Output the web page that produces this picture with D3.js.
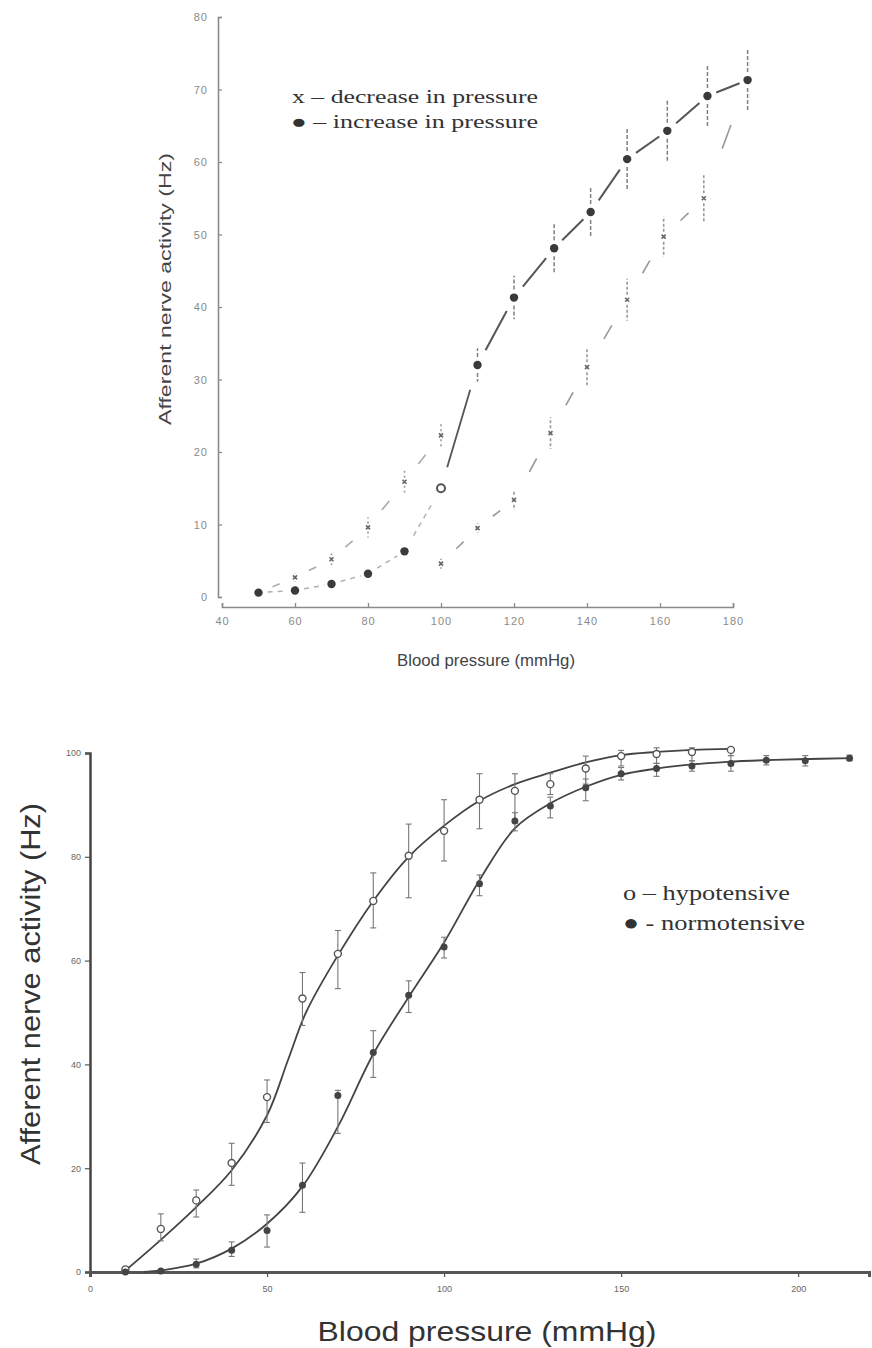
<!DOCTYPE html>
<html><head><meta charset="utf-8">
<script src="https://cdn.jsdelivr.net/npm/d3@7"></script>
<style>body{margin:0;background:#fff}svg{display:block}</style>
</head><body>
<svg id="c" width="872" height="1348"></svg>
<script>
// ---------- TOP CHART DATA ----------
const topTicksX = [40, 60, 80, 100, 120, 140, 160, 180];
const topTicksY = [0, 10, 20, 30, 40, 50, 60, 70, 80];
// increase in pressure (filled dots; the 100 mmHg point is hollow)
const incX   = [50, 60, 70, 80, 90, 100, 110, 120, 131, 141, 151, 162, 173, 184];
const incY   = [0.6, 0.9, 1.8, 3.2, 6.3, 15.0, 32.0, 41.3, 48.1, 53.1, 60.4, 64.3, 69.1, 71.3];
const incErr = [0, 0, 0, 0, 0, 0, 2.3, 3.0, 3.5, 3.3, 4.4, 4.2, 4.2, 4.3];
const incHollow = [0, 0, 0, 0, 0, 1, 0, 0, 0, 0, 0, 0, 0, 0];
// decrease in pressure (x marks), low-pressure branch
const decLowX   = [50, 60, 70, 80, 90, 100];
const decLowY   = [0.6, 2.7, 5.2, 9.6, 15.9, 22.3];
const decLowErr = [0, 0.5, 0.8, 1.4, 1.5, 1.7];
// decrease in pressure (x marks), high-pressure branch
const decHighX   = [100, 110, 120, 130, 140, 151, 161, 172, 184];
const decHighY   = [4.6, 9.5, 13.4, 22.6, 31.7, 41.0, 49.7, 55.0, 71.3];
const decHighErr = [0.5, 0.6, 1.4, 2.2, 2.6, 2.9, 2.8, 3.3, 0];

// ---------- BOTTOM CHART DATA ----------
const botTicksX = [0, 50, 100, 150, 200];
const botTicksY = [0, 20, 40, 60, 80, 100];
const hypoX  = [10, 20, 30, 40, 50, 60, 70, 80, 90, 100, 110, 120, 130, 140, 150, 160, 170, 181];
const hypoY  = [0.5, 8.3, 13.8, 21, 33.7, 52.7, 61.3, 71.5, 80.2, 85, 91, 92.7, 94, 97, 99.4, 99.8, 100.2, 100.6];
const hypoHi = [1, 11.2, 15.8, 24.8, 37, 57.7, 65.8, 76.9, 86.3, 91, 96, 96, 96, 99.4, 100.5, 101, 101, 101];
const hypoLo = [0, 6, 10.6, 16.7, 28.8, 47.5, 54.6, 66.3, 72.1, 79.2, 85.4, 87, 92, 94, 97.5, 98, 98.5, 99.5];
const normoX  = [10, 20, 30, 40, 50, 60, 70, 80, 90, 100, 110, 120, 130, 140, 150, 160, 170, 181, 191, 202, 214.5];
const normoY  = [0, 0.2, 1.5, 4.2, 8, 16.7, 34, 42.3, 53.3, 62.6, 74.8, 86.9, 89.8, 93.3, 96, 97, 97.5, 98, 98.6, 98.5, 99];
const normoHi = [0, 0.5, 2.5, 5.8, 11, 21, 35, 46.5, 56.1, 64.5, 76.5, 88.5, 91.5, 95, 97.2, 98, 98.5, 99.5, 99.5, 99.5, 99.6];
const normoLo = [0, 0, 0.8, 3, 4.8, 11.5, 26.7, 37.5, 50, 60.5, 72.5, 85, 87.5, 90.8, 94.8, 95.5, 96.5, 96.5, 97.7, 97.5, 98.5];
// fitted curves
const hypoFitX = [10, 20, 30, 40, 50, 56, 61, 70, 80, 90, 100, 110, 120, 130, 140, 150, 160, 170, 181];
const hypoFitY = [0.3, 6.2, 12.5, 19.6, 30.2, 41, 50, 61, 71.5, 80, 86, 90.8, 94, 96.2, 98.2, 99.6, 100.2, 100.6, 100.8];
const normoFitX = [15, 20, 30, 40, 50, 60, 70, 80, 90, 100, 110, 120, 130, 140, 150, 160, 170, 180, 190, 200, 215];
const normoFitY = [0, 0.3, 1.6, 4.5, 9.3, 16.5, 28, 42, 53, 63.5, 75.5, 85.5, 90.3, 93.5, 95.8, 97, 97.8, 98.3, 98.6, 98.8, 99];

const svg = d3.select("#c");
const SANS = "Arial, 'Liberation Sans', sans-serif";
const SERIF = "'Times New Roman', 'Liberation Serif', serif";

// ================= TOP CHART =================
const xT = d3.scaleLinear().domain([40, 180]).range([222, 733]);
const yT = d3.scaleLinear().domain([0, 80]).range([597, 17]);
const gT = svg.append("g");

const axYT = gT.append("g").attr("transform", "translate(218,0)")
  .call(d3.axisLeft(yT).tickValues(topTicksY).tickSize(-4).tickPadding(10));
const axXT = gT.append("g").attr("transform", "translate(0,607)")
  .call(d3.axisBottom(xT).tickValues(topTicksX).tickSize(-4).tickPadding(10));
[axYT, axXT].forEach(a => {
  a.select(".domain").attr("stroke", "#8a8a8a").attr("stroke-width", 1.6);
  a.selectAll(".tick line").attr("stroke", "#8a8a8a").attr("stroke-width", 1.3);
  a.selectAll(".tick text").attr("fill", "#8a8a8a").style("font-family", SANS)
    .style("font-size", "11px").style("letter-spacing", "1px");
});

function segs(g, xs, ys, sx, sy, t0, t1, from, to, style) {
  for (let i = from; i < to; i++) {
    const x1 = sx(xs[i]), y1 = sy(ys[i]), x2 = sx(xs[i + 1]), y2 = sy(ys[i + 1]);
    const l = g.append("line")
      .attr("x1", x1 + (x2 - x1) * t0).attr("y1", y1 + (y2 - y1) * t0)
      .attr("x2", x1 + (x2 - x1) * t1).attr("y2", y1 + (y2 - y1) * t1);
    Object.entries(style).forEach(([k, v]) => l.attr(k, v));
  }
}
// increase curve: light broken part, then solid, then dashed
segs(gT, incX, incY, xT, yT, 0.25, 0.8, 0, 5, {stroke: "#b0b0b0", "stroke-width": 1.5, "stroke-dasharray": "5,5"});
segs(gT, incX, incY, xT, yT, 0.17, 0.8, 5, 6, {stroke: "#555", "stroke-width": 1.8});
segs(gT, incX, incY, xT, yT, 0.22, 0.8, 6, incX.length - 1, {stroke: "#555", "stroke-width": 2});
// decrease curves: short dashes
segs(gT, decLowX, decLowY, xT, yT, 0.38, 0.58, 0, decLowX.length - 1, {stroke: "#aaa", "stroke-width": 1.6});
segs(gT, decHighX, decHighY, xT, yT, 0.42, 0.62, 0, decHighX.length - 1, {stroke: "#999", "stroke-width": 1.6});

function errGap(g, xs, ys, es, sx, sy, gap, style) {
  xs.forEach((x, i) => {
    if (!es[i]) return;
    const cx = sx(x), cy = sy(ys[i]);
    [[cy - gap, sy(ys[i] + es[i])], [cy + gap, sy(ys[i] - es[i])]].forEach(([a, b]) => {
      const l = g.append("line").attr("x1", cx).attr("x2", cx).attr("y1", a).attr("y2", b);
      Object.entries(style).forEach(([k, v]) => l.attr(k, v));
    });
  });
}
errGap(gT, incX, incY, incErr, xT, yT, 8, {stroke: "#808080", "stroke-width": 1.5, "stroke-dasharray": "4,2"});
errGap(gT, decLowX, decLowY, decLowErr, xT, yT, 4, {stroke: "#999", "stroke-width": 1.6, "stroke-dasharray": "2,3"});
errGap(gT, decHighX, decHighY, decHighErr, xT, yT, 5, {stroke: "#999", "stroke-width": 1.6, "stroke-dasharray": "3,2"});

// x markers
[[decLowX, decLowY], [decHighX, decHighY]].forEach(([xs, ys]) => {
  gT.append("g").selectAll("path").data(xs).join("path")
    .attr("d", (d, i) => { const cx = xT(d), cy = yT(ys[i]); return `M${cx-2},${cy-2}L${cx+2},${cy+2}M${cx-2},${cy+2}L${cx+2},${cy-2}`; })
    .attr("stroke", "#666").attr("stroke-width", 1.6);
});
// dots
gT.append("g").selectAll("circle").data(incX).join("circle")
  .attr("cx", d => xT(d)).attr("cy", (d, i) => yT(incY[i]))
  .attr("r", (d, i) => incHollow[i] ? 4 : 4.2)
  .attr("fill", (d, i) => incHollow[i] ? "#fff" : "#3a3a3a")
  .attr("stroke", (d, i) => incHollow[i] ? "#555" : "none")
  .attr("stroke-width", 2);

// labels
gT.append("text").attr("transform", "translate(171,289) rotate(-90)")
  .attr("text-anchor", "middle").attr("fill", "#444")
  .style("font-family", SANS).style("font-size", "17px")
  .attr("textLength", 272).attr("lengthAdjust", "spacingAndGlyphs")
  .text("Afferent nerve activity (Hz)");
gT.append("text").attr("x", 486).attr("y", 666).attr("text-anchor", "middle").attr("fill", "#444")
  .style("font-family", SANS).style("font-size", "17px")
  .attr("textLength", 178).attr("lengthAdjust", "spacingAndGlyphs")
  .text("Blood pressure (mmHg)");
gT.append("text").attr("x", 292).attr("y", 103).attr("fill", "#333")
  .style("font-family", SERIF).style("font-size", "19px")
  .attr("textLength", 246).attr("lengthAdjust", "spacingAndGlyphs")
  .text("x – decrease in pressure");
gT.append("text").attr("x", 291).attr("y", 128).attr("fill", "#333")
  .style("font-family", SERIF).style("font-size", "19px")
  .attr("textLength", 247).attr("lengthAdjust", "spacingAndGlyphs")
  .text("● – increase in pressure");

// ================= BOTTOM CHART =================
const xB = d3.scaleLinear().domain([0, 220]).range([90, 869]);
const yB = d3.scaleLinear().domain([0, 100]).range([1272, 753]);
const gB = svg.append("g");

const axYB = gB.append("g").attr("transform", "translate(90,0)")
  .call(d3.axisLeft(yB).tickValues(botTicksY).tickSize(5).tickPadding(4));
const axXB = gB.append("g").attr("transform", "translate(0,1272)")
  .call(d3.axisBottom(xB).tickValues(botTicksX).tickSize(5).tickPadding(9));
axYB.select(".domain").attr("stroke", "#444").attr("stroke-width", 2.5);
axXB.select(".domain").attr("stroke", "#555").attr("stroke-width", 3);
[axYB, axXB].forEach(a => {
  a.selectAll(".tick line").attr("stroke", "#555").attr("stroke-width", 1.2);
  a.selectAll(".tick text").attr("fill", "#666").style("font-family", SANS).style("font-size", "9px");
});

const lineB = d3.line().x(d => xB(d[0])).y(d => yB(d[1])).curve(d3.curveCatmullRom.alpha(0.5));
gB.append("path").datum(hypoFitX.map((x, i) => [x, hypoFitY[i]])).attr("d", lineB)
  .attr("fill", "none").attr("stroke", "#444").attr("stroke-width", 1.8);
gB.append("path").datum(normoFitX.map((x, i) => [x, normoFitY[i]])).attr("d", lineB)
  .attr("fill", "none").attr("stroke", "#444").attr("stroke-width", 1.8);

function errCap(g, xs, his, los) {
  const eg = g.append("g").attr("stroke", "#777").attr("stroke-width", 1.1);
  xs.forEach((x, i) => {
    if (his[i] - los[i] < 0.6) return;
    const cx = xB(x);
    eg.append("line").attr("x1", cx).attr("x2", cx).attr("y1", yB(his[i])).attr("y2", yB(los[i]));
    eg.append("line").attr("x1", cx - 3).attr("x2", cx + 3).attr("y1", yB(his[i])).attr("y2", yB(his[i]));
    eg.append("line").attr("x1", cx - 3).attr("x2", cx + 3).attr("y1", yB(los[i])).attr("y2", yB(los[i]));
  });
}
errCap(gB, hypoX, hypoHi, hypoLo);
errCap(gB, normoX, normoHi, normoLo);

gB.append("g").selectAll("circle").data(hypoX).join("circle")
  .attr("cx", d => xB(d)).attr("cy", (d, i) => yB(hypoY[i])).attr("r", 3.5)
  .attr("fill", "#fff").attr("stroke", "#555").attr("stroke-width", 1.4);
gB.append("g").selectAll("circle").data(normoX).join("circle")
  .attr("cx", d => xB(d)).attr("cy", (d, i) => yB(normoY[i])).attr("r", 3.5)
  .attr("fill", "#444");

gB.append("text").attr("transform", "translate(40,984) rotate(-90)")
  .attr("text-anchor", "middle").attr("fill", "#333")
  .style("font-family", SANS).style("font-size", "28px")
  .attr("textLength", 362).attr("lengthAdjust", "spacingAndGlyphs")
  .text("Afferent nerve activity (Hz)");
gB.append("text").attr("x", 487).attr("y", 1341).attr("text-anchor", "middle").attr("fill", "#333")
  .style("font-family", SANS).style("font-size", "28px")
  .attr("textLength", 339).attr("lengthAdjust", "spacingAndGlyphs")
  .text("Blood pressure (mmHg)");
gB.append("text").attr("x", 623).attr("y", 900).attr("fill", "#333")
  .style("font-family", SERIF).style("font-size", "22px")
  .attr("textLength", 167).attr("lengthAdjust", "spacingAndGlyphs")
  .text("o – hypotensive");
gB.append("text").attr("x", 623).attr("y", 930).attr("fill", "#333")
  .style("font-family", SERIF).style("font-size", "22px")
  .attr("textLength", 182).attr("lengthAdjust", "spacingAndGlyphs")
  .text("● - normotensive");
</script>
</body></html>
